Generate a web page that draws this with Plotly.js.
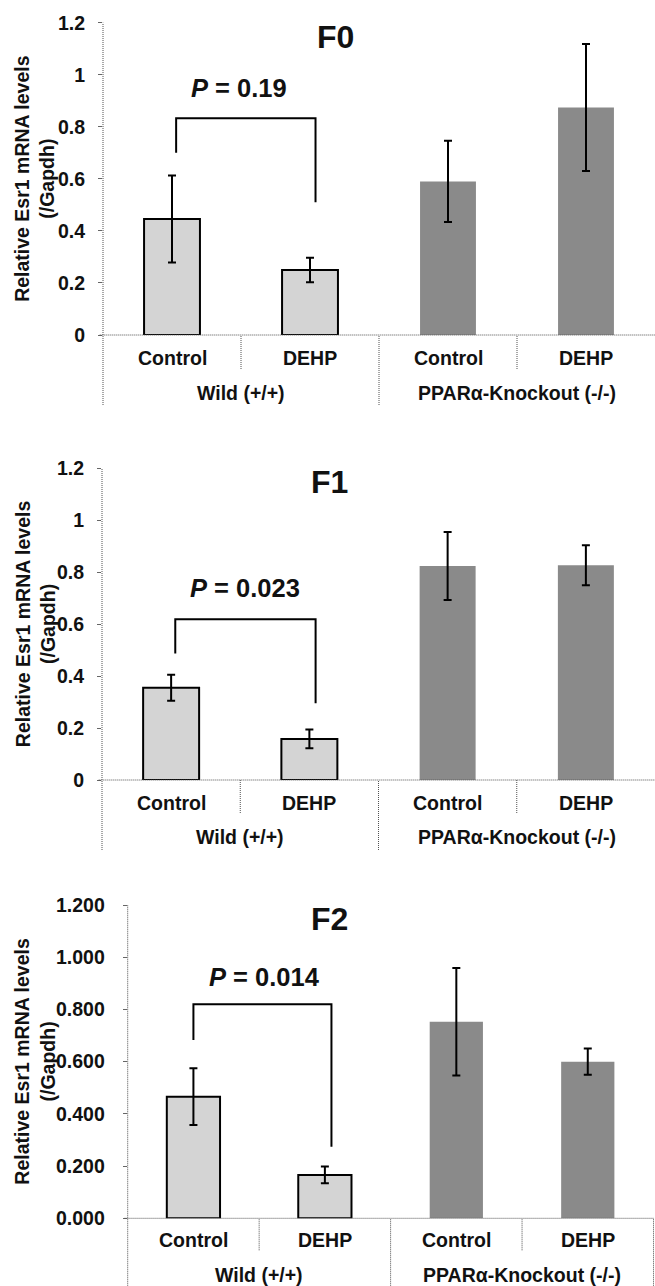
<!DOCTYPE html>
<html><head><meta charset="utf-8">
<script src="https://cdn.plot.ly/plotly-3.0.1.min.js"></script>
<style>html,body{margin:0;padding:0;background:#fff}#chart{width:655px;height:1286px}</style>
</head><body><div id="chart"></div>
<script>
// ---- data ----
const categories = ['Control', 'DEHP', 'Control', 'DEHP'];
const groups = ['Wild (+/+)', 'PPARα-Knockout (-/-)'];
const panelTitles = ['F0', 'F1', 'F2'];
const f0Mean = [0.446, 0.250, 0.590, 0.874];
const f0Err  = [0.167, 0.047, 0.156, 0.244];
const f1Mean = [0.355, 0.158, 0.824, 0.827];
const f1Err  = [0.050, 0.036, 0.131, 0.077];
const f2Mean = [0.466, 0.166, 0.753, 0.600];
const f2Err  = [0.109, 0.032, 0.206, 0.050];
const pValues = ['0.19', '0.023', '0.014'];
// bracket levels: [top, left leg bottom, right leg bottom]
const f0Bracket = [0.833, 0.700, 0.510];
const f1Bracket = [0.619, 0.487, 0.295];
const f2Bracket = [0.820, 0.683, 0.274];
const tickVals = [0, 0.2, 0.4, 0.6, 0.8, 1.0, 1.2];
const tickTextShort = ['0', '0.2', '0.4', '0.6', '0.8', '1', '1.2'];
const tickTextLong = ['0.000', '0.200', '0.400', '0.600', '0.800', '1.000', '1.200'];

// ---- geometry / style ----
const W = 655, H = 1286;
const FONT = 'Liberation Sans, Arial, sans-serif';
const WILD = '#d4d4d4', KO = '#8a8a8a';
const dotted = {color: '#505050', width: 1, dash: '1px,1px'};
const LBL = 19.5;

const panels = [
  {mean: f0Mean, err: f0Err, br: f0Bracket, ticks: tickTextShort,
   left: 103, right: 655, top: 22.7, bottom: 335, standoff: 9,
   title: [335, 37], pText: [0.483, 0.95], brX: [0.03, 1.04],
   shortD: 34, longD: 70, catOff: 23, grpOff: 58, rightEdge: false},
  {mean: f1Mean, err: f1Err, br: f1Bracket, ticks: tickTextShort,
   left: 102, right: 655, top: 468.3, bottom: 780, standoff: 9,
   title: [330, 482], pText: [0.534, 0.738], brX: [0.03, 1.045],
   shortD: 33, longD: 70, catOff: 23, grpOff: 57, rightEdge: false},
  {mean: f2Mean, err: f2Err, br: f2Bracket, ticks: tickTextLong,
   left: 127.7, right: 653.5, top: 905, bottom: 1218.3, standoff: 14,
   title: [330, 919], pText: [0.54, 0.926], brX: [0.0, 1.05],
   shortD: 32, longD: 68, catOff: 22, grpOff: 57, rightEdge: true}
];

const data = [];
const layout = {
  width: W, height: H, margin: {l: 0, r: 0, t: 0, b: 0},
  paper_bgcolor: '#fff', plot_bgcolor: 'rgba(0,0,0,0)',
  font: {family: FONT, color: '#111'},
  showlegend: false, barmode: 'overlay',
  shapes: [], annotations: []
};

panels.forEach((p, i) => {
  const s = i === 0 ? '' : String(i + 1);
  const xa = 'x' + s, ya = 'y' + s;
  const ph = p.bottom - p.top;
  data.push({
    type: 'bar', x: categories.map((c, k) => k), y: p.mean,
    width: 0.405, xaxis: xa, yaxis: ya, hoverinfo: 'skip',
    marker: {color: [WILD, WILD, KO, KO], line: {color: '#000', width: [2, 2, 0, 0]}},
    error_y: {type: 'data', array: p.err, visible: true, color: '#000', thickness: 2, width: 4}
  });
  layout['xaxis' + s] = {
    domain: [p.left / W, p.right / W], range: [-0.5, 3.5], anchor: ya,
    showgrid: false, zeroline: false, showline: false, showticklabels: false, ticks: '', fixedrange: true
  };
  layout['yaxis' + s] = {
    domain: [1 - p.bottom / H, 1 - p.top / H], range: [0, 1.2], anchor: xa,
    tickvals: tickVals, ticktext: p.ticks, ticks: 'outside', ticklen: 4, tickwidth: 1, tickcolor: '#666',
    ticklabelstandoff: p.standoff,
    tickfont: {family: FONT, size: LBL, color: '#111', weight: 'bold'},
    showgrid: false, zeroline: false, showline: false, fixedrange: true
  };
  const xd = xa + ' domain', yd = ya + ' domain';
  const sh = layout.shapes;
  // axis lines
  sh.push({type: 'line', xref: xd, yref: yd, x0: 0, x1: 0, y0: -p.longD / ph, y1: 1, line: dotted});
  sh.push({type: 'line', xref: xd, yref: yd, x0: -0.006, x1: 1, y0: 0, y1: 0, line: dotted});
  // separators
  [0.25, 0.75].forEach(f => sh.push({type: 'line', xref: xd, yref: yd, x0: f, x1: f, y0: -p.shortD / ph, y1: 0, line: dotted}));
  sh.push({type: 'line', xref: xd, yref: yd, x0: 0.5, x1: 0.5, y0: -p.longD / ph, y1: 0, line: dotted});
  if (p.rightEdge) sh.push({type: 'line', xref: xd, yref: yd, x0: 1, x1: 1, y0: -p.longD / ph, y1: 0, line: dotted});
  // bracket
  sh.push({type: 'path', xref: xa, yref: ya,
    path: `M ${p.brX[0]},${p.br[1]} L ${p.brX[0]},${p.br[0]} L ${p.brX[1]},${p.br[0]} L ${p.brX[1]},${p.br[2]}`,
    line: {color: '#000', width: 2}});
  const an = layout.annotations;
  an.push({xref: 'paper', yref: 'paper', x: p.title[0] / W, y: 1 - p.title[1] / H, text: panelTitles[i],
    showarrow: false, xanchor: 'center', yanchor: 'middle', font: {family: FONT, size: 32, weight: 'bold', color: '#111'}});
  an.push({xref: xa, yref: ya, x: p.pText[0], y: p.pText[1], text: '<i>P</i> = ' + pValues[i],
    showarrow: false, xanchor: 'center', yanchor: 'middle', font: {family: FONT, size: 25.5, weight: 'bold', color: '#111'}});
  categories.forEach((c, k) => an.push({xref: xa, yref: yd, x: k, y: -p.catOff / ph, text: c,
    showarrow: false, xanchor: 'center', yanchor: 'middle', font: {family: FONT, size: LBL, weight: 'bold', color: '#111'}}));
  groups.forEach((g, k) => an.push({xref: xa, yref: yd, x: 0.5 + 2 * k, y: -p.grpOff / ph, text: g,
    showarrow: false, xanchor: 'center', yanchor: 'middle', font: {family: FONT, size: LBL, weight: 'bold', color: '#111'}}));
  an.push({xref: 'paper', yref: yd, x: 35 / W, y: 0.5, text: 'Relative Esr1 mRNA levels<br>(/Gapdh)',
    textangle: -90, showarrow: false, xanchor: 'center', yanchor: 'middle',
    font: {family: FONT, size: LBL, weight: 'bold', color: '#111'}});
});

Plotly.newPlot('chart', data, layout, {staticPlot: true, displayModeBar: false});
</script></body></html>
